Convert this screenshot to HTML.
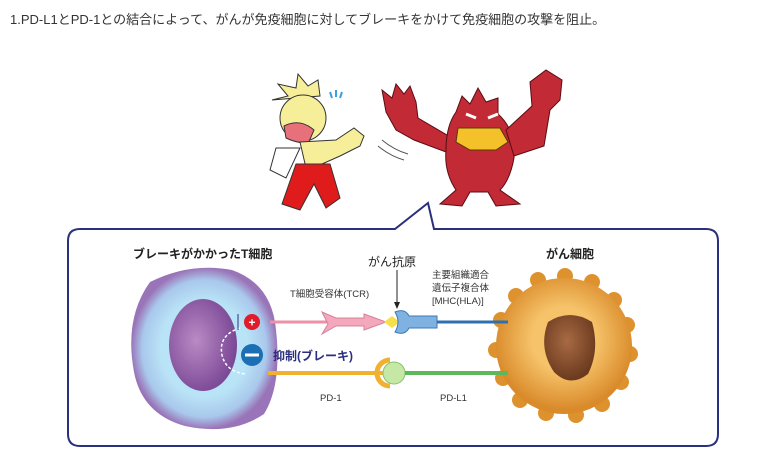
<!DOCTYPE html>
<html><head><meta charset="utf-8"><style>
html,body{margin:0;padding:0;background:#fff;}
body{width:784px;height:462px;overflow:hidden;font-family:"Liberation Sans","Noto Sans CJK JP",sans-serif;}
</style></head><body>
<svg width="784" height="462" viewBox="0 0 784 462" xmlns="http://www.w3.org/2000/svg" font-family="Liberation Sans, Noto Sans CJK JP, sans-serif">
<defs>
<radialGradient id="tc" cx="50%" cy="50%" r="50%"><stop offset="0.6" stop-color="#b9e3f6"/><stop offset="0.85" stop-color="#a9c8ec"/><stop offset="1" stop-color="#9a74b8"/></radialGradient>
<radialGradient id="tn" cx="40%" cy="45%" r="60%"><stop offset="0" stop-color="#b98ac4"/><stop offset="1" stop-color="#7a4795"/></radialGradient>
<radialGradient id="cc" cx="50%" cy="45%" r="52%"><stop offset="0.45" stop-color="#f6c36a"/><stop offset="1" stop-color="#d98a2a"/></radialGradient>
<radialGradient id="cn" cx="45%" cy="40%" r="60%"><stop offset="0" stop-color="#a86a44"/><stop offset="1" stop-color="#6b3a1e"/></radialGradient>
</defs>
<text x="10" y="24" font-size="13" fill="#333">1.PD-L1とPD-1との結合によって、がんが免疫細胞に対してブレーキをかけて免疫細胞の攻撃を阻止。</text>

<!-- yellow guy -->
<g stroke="#333" stroke-width="1">
<path d="M272,100 L288,96 L278,84 L296,88 L298,74 L308,86 L318,80 L320,96 Z" fill="#f7ee9a"/>
<circle cx="303" cy="118" r="23" fill="#f7ee9a"/>
<path d="M284,126 Q300,118 314,130 L308,144 Q294,142 286,138 Z" fill="#e8707a"/>
<path d="M300,142 L336,140 L354,128 L364,136 L360,146 L340,156 L322,164 L306,168 Z" fill="#f7ee9a"/>
<path d="M276,148 L300,148 L286,178 L270,170 Z" fill="#fff"/>
<path d="M296,164 L330,164 L340,198 L326,208 L314,184 L300,210 L282,204 Z" fill="#e01b1b"/>
</g>
<path d="M330,92 l2,6 M336,90 l0,7 M342,92 l-2,6" stroke="#3aa0e0" stroke-width="2"/>
<!-- red monster -->
<g fill="#c22a35" stroke="#5a0c14" stroke-width="1">
<path d="M382,90 L392,98 L396,84 L404,94 L410,86 L416,102 L418,118 L452,138 L446,152 L414,140 L396,130 L386,112 Z"/>
<path d="M456,112 L462,96 L470,104 L478,88 L486,102 L498,98 L498,114 Q516,130 514,158 Q510,180 500,190 L520,204 L496,206 L488,192 L470,192 L462,206 L440,204 L456,190 Q444,172 446,150 Q446,126 456,112 Z"/>
<path d="M506,130 L532,106 L530,82 L546,70 L562,80 L560,100 L550,110 L544,146 L514,156 Z"/>
<path d="M458,128 L500,128 L508,142 L496,150 L470,150 L456,142 Z" fill="#f5c12a" stroke="#5a3a00"/>
<path d="M466,114 l10,4 M488,118 l10,-4" stroke="#fff" stroke-width="3"/>
</g>
<path d="M378,146 q12,10 26,14 M382,140 q12,10 26,14" stroke="#555" fill="none"/>

<!-- frame -->
<path d="M80,229 L395,229 L428,203 L434,229 L706,229 Q718,229 718,241 L718,434 Q718,446 706,446 L80,446 Q68,446 68,434 L68,241 Q68,229 80,229 Z" fill="#fff" stroke="#2b2f7f" stroke-width="2"/>

<!-- T cell -->
<path d="M150,282 Q190,262 232,270 Q272,284 276,330 Q282,385 264,414 Q232,436 185,426 Q142,414 134,372 Q124,318 150,282 Z" fill="url(#tc)"/>
<ellipse cx="203" cy="345" rx="34" ry="46" fill="url(#tn)"/>
<path d="M240,328 Q218,335 222,355 Q226,372 246,374" fill="none" stroke="#fff" stroke-width="1.5" stroke-dasharray="3,2"/>
<line x1="238" y1="314" x2="238" y2="330" stroke="#2b2f7f"/>
<!-- cancer cell -->
<g fill="#dd922e">
<circle cx="565" cy="276" r="8"/><circle cx="592" cy="282" r="8"/><circle cx="614" cy="300" r="8"/><circle cx="627" cy="325" r="8"/><circle cx="630" cy="354" r="8"/><circle cx="621" cy="382" r="8"/><circle cx="602" cy="404" r="8"/><circle cx="576" cy="415" r="8"/><circle cx="546" cy="413" r="8"/><circle cx="520" cy="400" r="8"/><circle cx="503" cy="378" r="8"/><circle cx="496" cy="350" r="8"/><circle cx="501" cy="320" r="8"/><circle cx="516" cy="296" r="8"/><circle cx="538" cy="280" r="8"/>
</g>
<circle cx="564" cy="346" r="68" fill="url(#cc)"/>
<path d="M548,322 Q570,308 592,322 Q600,350 588,374 Q570,388 554,372 Q538,348 548,322 Z" fill="url(#cn)"/>

<!-- connectors -->
<line x1="270" y1="322" x2="330" y2="322" stroke="#ee90a8" stroke-width="3"/>
<path d="M322,312 l14,6 l28,0 l0,-4 l22,8 l-22,8 l0,-4 l-28,0 l-14,8 l6,-10 z" fill="#f4a8bb" stroke="#d8809a"/>
<path d="M384,322 l8,-6 l8,6 l-8,6 z" fill="#f6e04a"/>
<path d="M395,312 q10,-4 14,4 l28,0 l0,12 l-28,0 q-4,8 -14,4 q6,-10 0,-20 z" fill="#7fb2e0" stroke="#3d78b8"/>
<line x1="437" y1="322" x2="508" y2="322" stroke="#2e6fb0" stroke-width="3"/>
<line x1="268" y1="373" x2="384" y2="373" stroke="#f0b030" stroke-width="4"/>
<path d="M390,360 a13,13 0 1,0 0,26" fill="none" stroke="#f0b030" stroke-width="5"/>
<circle cx="394" cy="373" r="11" fill="#c6e8a6" stroke="#8cc070"/>
<line x1="405" y1="373" x2="508" y2="373" stroke="#5db85a" stroke-width="4"/>
<circle cx="252" cy="322" r="8" fill="#e01b2a"/><text x="252" y="326.5" font-size="12" font-weight="bold" fill="#fff" text-anchor="middle">+</text>
<circle cx="252" cy="355" r="11" fill="#1a6fb5"/><rect x="245" y="353.5" width="14" height="3" fill="#fff"/>
<line x1="397" y1="270" x2="397" y2="305" stroke="#222"/><path d="M394,302 l3,7 l3,-7 z" fill="#222"/>

<!-- labels -->
<text x="133" y="258" font-size="12" font-weight="bold" fill="#222">ブレーキがかかったT細胞</text>
<text x="546" y="258" font-size="12" font-weight="bold" fill="#222">がん細胞</text>
<text x="368" y="266" font-size="12" fill="#222">がん抗原</text>
<text x="290" y="297" font-size="9.5" fill="#333">T細胞受容体(TCR)</text>
<text x="432" y="278" font-size="9.5" fill="#333">主要組織適合</text>
<text x="432" y="291" font-size="9.5" fill="#333">遺伝子複合体</text>
<text x="432" y="304" font-size="9.5" fill="#333">[MHC(HLA)]</text>
<text x="273" y="360" font-size="12" font-weight="bold" fill="#2b2f7f">抑制(ブレーキ)</text>
<text x="320" y="401" font-size="9.5" fill="#333">PD-1</text>
<text x="440" y="401" font-size="9.5" fill="#333">PD-L1</text>
</svg>
</body></html>
